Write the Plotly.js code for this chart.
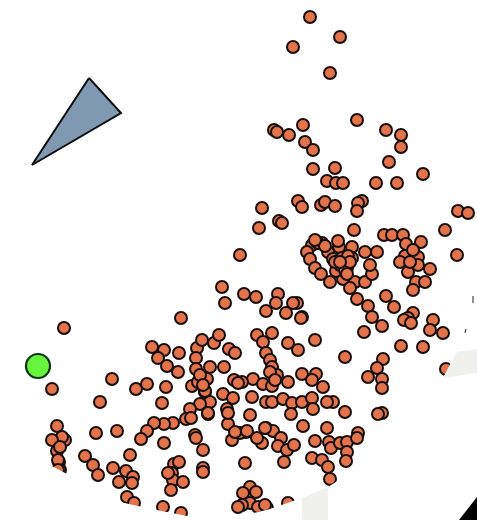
<!DOCTYPE html>
<html><head><meta charset="utf-8">
<script src="https://cdn.plot.ly/plotly-3.0.1.min.js"></script>
<style>html,body{margin:0;padding:0;background:#fff}#c{width:477px;height:520px;filter:blur(0.45px)}</style>
</head><body><div id="c"></div>
<script>
const pointX=[310,340,293,330,357,274,277,289,303,305,313,386,401,401,389,423,313,335,327,336,343,376,397,298,302,321,325,335,362,358,357,262,259,279,282,458,468,445,354,457,240,
384,392,403,406,421,405,418,408,430,416,425,413,418,322,312,307,310,315,321,330,343,355,365,372,370,377,365,352,339,338,328,333,352,342,336,347,350,357,368,372,386,394,413,408,433,297,302,
382,364,404,411,430,443,401,423,446,383,377,368,382,382,345,315,288,298,244,256,278,276,266,293,286,301,257,272,263,266,270,272,277,288,302,316,312,323,253,263,272,242,252,266,272,283,292,302,312,313,291,333,327,345,382,378,250,303,327,315,329,331,340,347,347,346,358,357,246,266,273,281,262,278,287,294,284,245,312,322,328,330,250,256,243,250,242,260,288,267,258,265,238,
222,225,181,64,52,112,136,147,166,100,162,57,96,117,57,65,57,59,60,85,93,98,113,130,126,133,119,132,127,134,163,181,152,164,158,167,179,178,197,202,196,214,219,229,235,196,210,224,192,198,207,205,223,234,238,233,210,200,190,186,208,227,228,232,240,173,164,154,147,141,195,196,203,164,174,179,172,173,183,171,203,203,168,228,235,247,257,205,208,265,191,
345,340,335,348,345,350,318,325,315,413,400,410,200,203,62,52,60,58,58,270,275,340,347];
const pointY=[17,37,47,73,120,130,132,135,125,142,150,130,135,147,162,174,169,168,181,183,183,183,183,201,207,205,202,206,201,203,211,208,228,221,223,211,213,230,230,255,255,
235,235,235,244,242,256,257,272,269,282,282,290,265,243,245,252,259,268,274,282,279,282,282,274,265,252,252,247,247,241,252,259,258,258,271,268,288,299,306,317,296,307,313,318,320,303,317,
326,332,320,323,330,333,346,347,369,359,368,377,379,388,357,340,343,350,294,297,294,303,311,303,313,318,335,333,342,353,360,367,375,382,374,374,380,387,379,384,386,382,397,402,402,399,403,402,398,409,414,402,402,412,413,414,415,426,428,441,442,448,443,442,452,461,433,438,432,428,431,438,443,446,450,445,462,463,458,460,467,479,487,492,493,503,505,508,503,508,507,505,507,
287,303,318,328,389,379,389,384,387,402,403,426,433,431,442,440,451,462,470,456,465,475,468,455,471,477,482,483,497,503,507,513,347,350,358,366,353,372,348,340,358,343,335,349,353,369,367,367,386,382,379,392,394,380,383,398,402,404,409,419,414,409,424,440,433,423,424,423,431,439,435,438,450,443,464,462,473,480,482,490,468,472,473,413,432,431,438,391,413,428,418,
262,265,262,256,270,262,243,246,240,250,262,262,375,385,437,440,447,460,470,372,380,262,274];
const seedX=[38], seedY=[366];
const triX=[89,121,32,89], triY=[78,113,165,78];
const maskX=[0,46,52,65,120,147,187,220,250,270,302,328,370,410,443,457,477,477,0];
const maskY=[457,462,466,473,502,508,516,516,514,509,498,487,460,425,378,352,310,520,520];
const patchAX=[302,328,328,302], patchAY=[498,487,520,520];
const patchBX=[443,457,477,477], patchBY=[378,352,349,373];
const cornerX=[459,477,477], cornerY=[520,497,520];
const tickAX=[473,473], tickAY=[296,303];
const tickBX=[465,466], tickBY=[333,329];
const poly=(xs,ys)=>xs.map((x,i)=>(i?'L':'M')+x+','+ys[i]).join(' ')+' Z';
const traces=[
 {type:'scatter',mode:'lines',x:triX,y:triY,fill:'toself',fillcolor:'#7f99b2',line:{color:'#0c0c0c',width:2},hoverinfo:'skip'},
 {type:'scatter',mode:'markers',x:pointX,y:pointY,marker:{size:12,color:'#e2734b',line:{color:'#170d0a',width:2}}},
 {type:'scatter',mode:'markers',x:seedX,y:seedY,marker:{size:24,color:'#66f53c',line:{color:'#0f330f',width:2.2}}}
];
const shape=(xs,ys,c)=>({type:'path',path:poly(xs,ys),fillcolor:c,line:{width:0},layer:'above',xref:'x',yref:'y'});
const seg=(xs,ys)=>({type:'line',x0:xs[0],x1:xs[1],y0:ys[0],y1:ys[1],line:{color:'#222',width:1},layer:'above',xref:'x',yref:'y'});
const layout={width:477,height:520,margin:{l:0,r:0,t:0,b:0},showlegend:false,paper_bgcolor:'#fff',plot_bgcolor:'#fff',
 xaxis:{range:[0,477],visible:false,fixedrange:true},
 yaxis:{range:[520,0],visible:false,fixedrange:true},
 shapes:[shape(maskX,maskY,'#fff'),shape(patchAX,patchAY,'#f0f1ed'),shape(patchBX,patchBY,'#f0f1ed'),shape(cornerX,cornerY,'#000'),seg(tickAX,tickAY),seg(tickBX,tickBY)]};
Plotly.newPlot('c',traces,layout,{displayModeBar:false,staticPlot:true});
</script></body></html>
